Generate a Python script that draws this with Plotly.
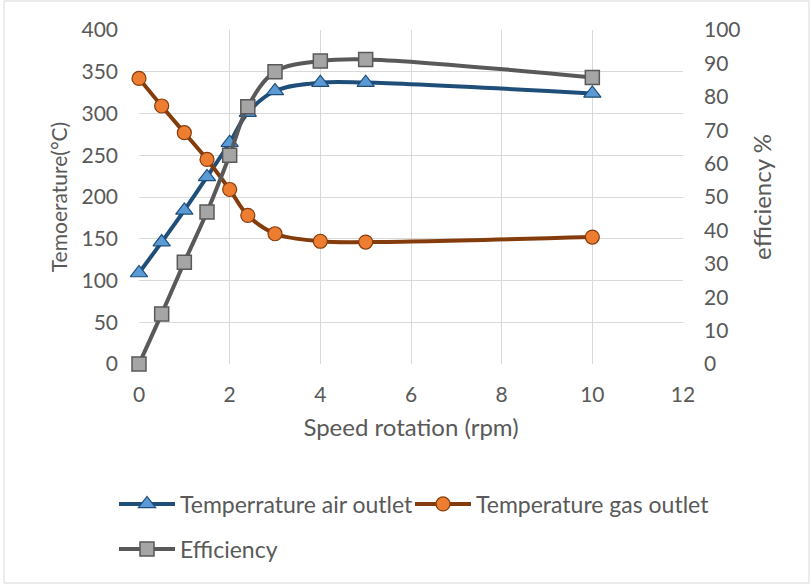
import plotly.graph_objects as go

# Rotation speed (rpm)
speed = [0, 0.5, 1, 1.5, 2, 2.4, 3, 4, 5, 10]

# Outlet temperatures (°C)
air_outlet = [109, 146, 184, 224, 265, 301, 327, 337, 337, 324]
gas_outlet = [342, 309, 277, 245, 209, 178, 156, 147, 146, 152]

# Efficiency (%)
efficiency = [0, 15, 30.5, 45.5, 62.5, 77, 87.5, 90.7, 91.2, 85.8]

FONT = "Lato"
GREY = "#595959"
GRID = "#D9D9D9"

# Plot area in pixels, used to place legends and the frame
L, R, T, B = 139, 683, 30, 364
PW, PH = R - L, B - T


def px_x(px):
    return (px - L) / PW


def px_y(py):
    return (B - py) / PH


fig = go.Figure()

fig.add_trace(go.Scatter(
    x=speed, y=air_outlet, name="Temperrature air outlet",
    mode="lines+markers", line=dict(color="#1F4E79", width=4, shape="spline"),
    marker=dict(symbol="triangle-up", size=15, color="#5B9BD5",
                line=dict(color="#1F4E79", width=1.2)),
    cliponaxis=False, legend="legend",
))
fig.add_trace(go.Scatter(
    x=speed, y=gas_outlet, name="Temperature gas outlet",
    mode="lines+markers", line=dict(color="#843C0C", width=4, shape="spline"),
    marker=dict(symbol="circle", size=14, color="#ED7D31",
                line=dict(color="#843C0C", width=1.2)),
    cliponaxis=False, legend="legend2",
))
fig.add_trace(go.Scatter(
    x=speed, y=efficiency, name="Efficiency", yaxis="y2",
    mode="lines+markers", line=dict(color=GREY, width=4, shape="spline"),
    marker=dict(symbol="square", size=14, color="#A5A5A5",
                line=dict(color=GREY, width=1.5)),
    cliponaxis=False, legend="legend3",
))

tickfont = dict(family=FONT, size=21, color=GREY)
legfont = dict(family=FONT, size=23, color=GREY)


def legend_at(x_px, y_px):
    return dict(
        orientation="h", x=px_x(x_px), xanchor="left",
        y=px_y(y_px), yanchor="middle",
        font=legfont, itemwidth=56, bgcolor="rgba(0,0,0,0)",
    )


fig.update_layout(
    width=812, height=585,
    margin=dict(l=L, r=812 - R, t=T, b=585 - B),
    paper_bgcolor="white", plot_bgcolor="white",
    font=dict(family=FONT, color=GREY),
    showlegend=True,
    xaxis=dict(
        range=[0, 12], tickvals=[0, 2, 4, 6, 8, 10, 12],
        showgrid=True, gridcolor=GRID, gridwidth=1,
        zeroline=False, showline=False, tickfont=tickfont,
        ticklabelstandoff=16,
        title=dict(text="Speed rotation (rpm)",
                   font=dict(family=FONT, size=24, color=GREY), standoff=14),
    ),
    yaxis=dict(
        range=[0, 400], dtick=50,
        showgrid=True, gridcolor=GRID, gridwidth=1,
        zeroline=False, showline=False, tickfont=tickfont,
        ticklabelstandoff=20,
        title=dict(text="Temoerature(°C)",
                   font=dict(family=FONT, size=21, color=GREY), standoff=8),
    ),
    yaxis2=dict(
        range=[0, 100], dtick=10, overlaying="y", side="right",
        showgrid=False, zeroline=False, showline=False, tickfont=tickfont,
        ticklabelstandoff=20,
        title=dict(text="efficiency %",
                   font=dict(family=FONT, size=24, color=GREY), standoff=14),
    ),
    legend=legend_at(114, 504),
    legend2=legend_at(410, 504),
    legend3=legend_at(114, 549),
)

# Chart frame around the whole figure
fig.add_shape(
    type="rect", xref="paper", yref="paper",
    x0=px_x(4), x1=px_x(809), y0=px_y(583), y1=px_y(1),
    line=dict(color="#D9D9D9", width=1), layer="below",
)

fig.write_html("out.html")
